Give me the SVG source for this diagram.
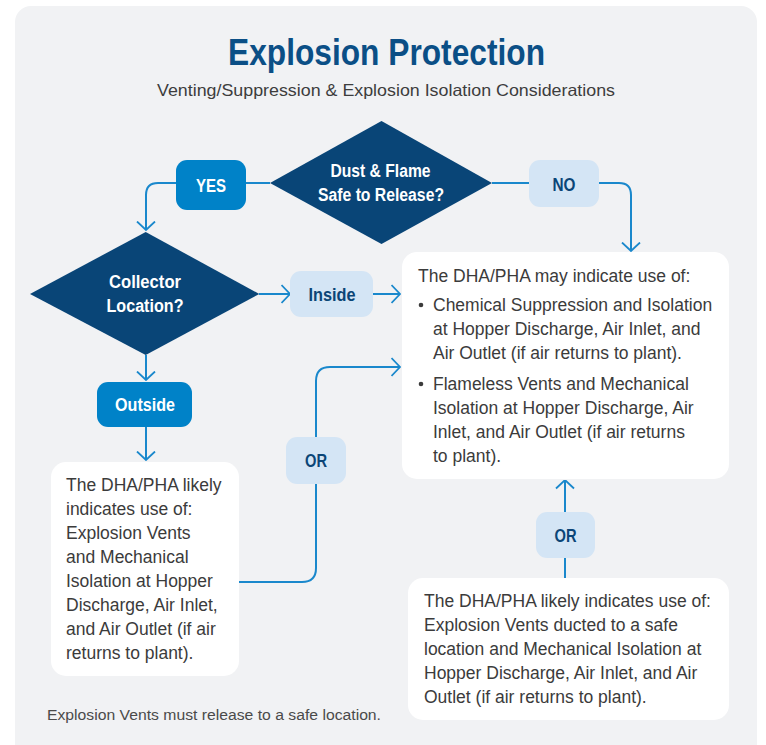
<svg xmlns="http://www.w3.org/2000/svg" width="766" height="745" viewBox="0 0 766 745">
<defs>
<marker id="arr" viewBox="0 0 10 20" refX="9.5" refY="10" markerWidth="10" markerHeight="20" markerUnits="userSpaceOnUse" orient="auto">
<path d="M1,1 L9.5,10 L1,19" fill="none" stroke="#1a88cc" stroke-width="1.8"/>
</marker>
<style>
text{font-family:"Liberation Sans Narrow","Liberation Sans",Arial,sans-serif}
.title{font-size:37px;font-weight:bold;fill:#0b4f86;text-anchor:middle}
.sub{font-size:16.5px;fill:#3d3d3d;text-anchor:middle}
.dia{fill:#094577}
.dt{font-size:17.5px;font-weight:bold;fill:#fff;text-anchor:middle}
.dark{fill:#0082c8}
.light{fill:#d4e5f5}
.lt{font-size:17.5px;font-weight:bold;fill:#0b4577;text-anchor:middle}
.wt{font-size:17.5px;font-weight:bold;fill:#fff;text-anchor:middle}
.box{fill:#fff}
.body{font-size:17.5px;fill:#3b3b3b}
.foot{font-size:15.5px;fill:#4a4a4a}
.con path{fill:none;stroke:#1a88cc;stroke-width:2}
</style>
</defs>
<rect x="15" y="6" width="742" height="760" rx="16" fill="#f1f2f4"/>
<text class="title" x="386.5" y="65" textLength="317" lengthAdjust="spacingAndGlyphs">Explosion Protection</text>
<text class="sub" x="386" y="96" textLength="458" lengthAdjust="spacingAndGlyphs">Venting/Suppression &amp; Explosion Isolation Considerations</text>

<g id="connectors" class="con">
<path d="M270,183 H158 Q146,183 146,195 V230" marker-end="url(#arr)"/>
<path d="M492,183 H619 Q631,183 631,195 V251" marker-end="url(#arr)"/>
<path d="M259,294 H290" marker-end="url(#arr)"/>
<path d="M373,294 H400" marker-end="url(#arr)"/>
<path d="M146,355 V380" marker-end="url(#arr)"/>
<path d="M146,427 V460" marker-end="url(#arr)"/>
<path d="M239,582 H302 Q316,582 316,568 V381 Q316,367 330,367 H400" marker-end="url(#arr)"/>
<path d="M565,578 V480" marker-end="url(#arr)"/>
</g>

<g id="dust-flame">
<polygon class="dia" points="381.5,121 492,183 381.5,244 270,183"/>
<text class="dt" x="380.5" y="177" textLength="100" lengthAdjust="spacingAndGlyphs">Dust &amp; Flame</text>
<text class="dt" x="381" y="201" textLength="126" lengthAdjust="spacingAndGlyphs">Safe to Release?</text>
</g>
<g id="yes">
<rect class="dark" x="176" y="160" width="70" height="50" rx="11"/>
<text class="wt" x="211" y="192" textLength="30" lengthAdjust="spacingAndGlyphs">YES</text>
</g>
<g id="no">
<rect class="light" x="529" y="160" width="70" height="47" rx="11"/>
<text class="lt" x="564" y="191" textLength="23" lengthAdjust="spacingAndGlyphs">NO</text>
</g>
<g id="collector-location">
<polygon class="dia" points="145.7,232 259.3,294 145.7,355 30,294"/>
<text class="dt" x="145" y="288" textLength="72" lengthAdjust="spacingAndGlyphs">Collector</text>
<text class="dt" x="145" y="312" textLength="77" lengthAdjust="spacingAndGlyphs">Location?</text>
</g>
<g id="inside">
<rect class="light" x="290" y="271" width="83" height="46" rx="11"/>
<text class="lt" x="332" y="301" textLength="47" lengthAdjust="spacingAndGlyphs">Inside</text>
</g>
<g id="outside">
<rect class="dark" x="97" y="382" width="95" height="45" rx="11"/>
<text class="wt" x="145" y="411" textLength="60" lengthAdjust="spacingAndGlyphs">Outside</text>
</g>
<g id="or-left">
<rect class="light" x="286" y="437" width="60" height="47" rx="11"/>
<text class="lt" x="316" y="467" textLength="22" lengthAdjust="spacingAndGlyphs">OR</text>
</g>
<g id="or-right">
<rect class="light" x="536" y="512" width="59" height="46" rx="11"/>
<text class="lt" x="565.5" y="542" textLength="22" lengthAdjust="spacingAndGlyphs">OR</text>
</g>
<g id="inside-result">
<rect class="box" x="402" y="252" width="327" height="227" rx="15"/>
<text class="body" x="418" y="282">The DHA/PHA may indicate use of:</text>
<circle cx="421" cy="305" r="2.3" fill="#3b3b3b"/>
<text class="body" x="433" y="311">Chemical Suppression and Isolation</text>
<text class="body" x="433" y="335">at Hopper Discharge, Air Inlet, and</text>
<text class="body" x="433" y="359">Air Outlet (if air returns to plant).</text>
<circle cx="421" cy="384" r="2.3" fill="#3b3b3b"/>
<text class="body" x="433" y="390">Flameless Vents and Mechanical</text>
<text class="body" x="433" y="414">Isolation at Hopper Discharge, Air</text>
<text class="body" x="433" y="438">Inlet, and Air Outlet (if air returns</text>
<text class="body" x="433" y="462">to plant).</text>
</g>
<g id="outside-result">
<rect class="box" x="51" y="462" width="188" height="214" rx="15"/>
<text class="body" x="66" y="491">The DHA/PHA likely</text>
<text class="body" x="66" y="515">indicates use of:</text>
<text class="body" x="66" y="539">Explosion Vents</text>
<text class="body" x="66" y="563">and Mechanical</text>
<text class="body" x="66" y="587">Isolation at Hopper</text>
<text class="body" x="66" y="611">Discharge, Air Inlet,</text>
<text class="body" x="66" y="635">and Air Outlet (if air</text>
<text class="body" x="66" y="659">returns to plant).</text>
</g>
<g id="ducted-result">
<rect class="box" x="408" y="578" width="321" height="142" rx="15"/>
<text class="body" x="424" y="607">The DHA/PHA likely indicates use of:</text>
<text class="body" x="424" y="631">Explosion Vents ducted to a safe</text>
<text class="body" x="424" y="655">location and Mechanical Isolation at</text>
<text class="body" x="424" y="679">Hopper Discharge, Air Inlet, and Air</text>
<text class="body" x="424" y="703">Outlet (if air returns to plant).</text>
</g>
<text class="foot" x="47" y="720" textLength="334" lengthAdjust="spacingAndGlyphs">Explosion Vents must release to a safe location.</text>
</svg>
